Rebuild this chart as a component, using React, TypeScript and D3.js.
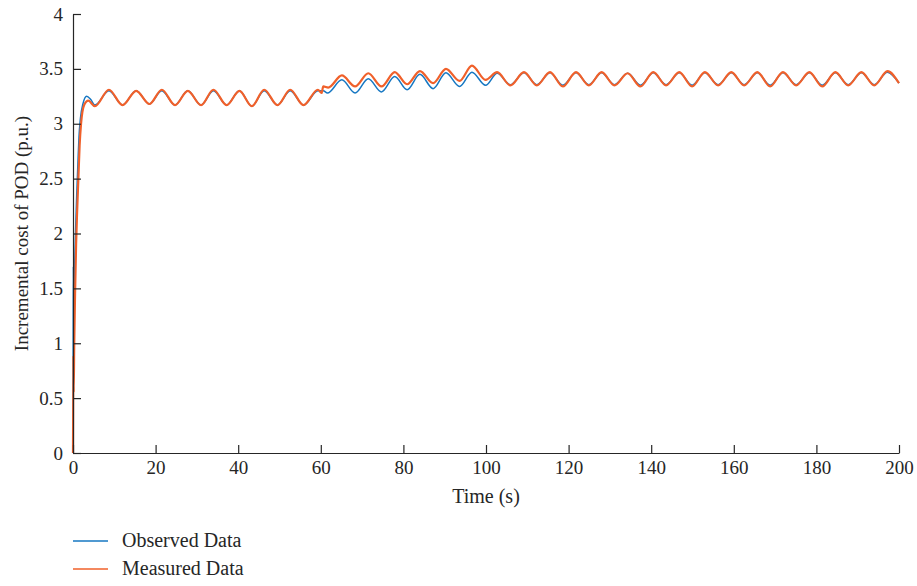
import React, { useEffect, useRef } from "react";
import * as d3 from "d3";

// series (turning points + transient), time in s
const measuredTime = [
  0, 0.1, 0.16, 0.3, 0.5, 0.75, 1.0, 1.3, 1.6, 1.95, 2.7, 3.7, 5.3,
  8.7, 12.0, 15.3, 18.5, 21.5, 24.7, 27.8, 31.0, 34.0, 37.2, 40.3, 43.3, 46.3, 49.5, 52.6, 55.8, 59.3, 60.2,
  60.6, 61.8, 65.1, 68.3, 71.5, 74.7, 77.9, 80.9, 84.0, 87.2, 90.3, 93.6, 96.6, 99.9,
  102.7, 105.9, 109.2, 112.3, 115.5, 118.6, 121.8, 124.9, 128.0, 131.1, 134.3, 137.4, 140.5, 143.6,
  146.8, 149.9, 153.0, 156.2, 159.4, 162.5, 165.7, 168.8, 171.9, 175.1, 178.3, 181.4, 184.6, 187.7,
  190.9, 194.0, 197.2, 200,
];
const measuredValue = [
  0, 0.89, 0.55, 1.0, 1.45, 1.9, 2.2, 2.5, 2.8, 3.0, 3.17, 3.21, 3.16,
  3.31, 3.17, 3.30, 3.18, 3.31, 3.17, 3.30, 3.17, 3.31, 3.17, 3.30, 3.16, 3.31, 3.17, 3.31, 3.17, 3.31, 3.28,
  3.34, 3.33, 3.44, 3.34, 3.46, 3.34, 3.47, 3.36, 3.48, 3.37, 3.50, 3.39, 3.53, 3.40,
  3.47, 3.35, 3.47, 3.35, 3.47, 3.34, 3.47, 3.35, 3.47, 3.35, 3.46, 3.34, 3.47, 3.35,
  3.47, 3.34, 3.47, 3.35, 3.47, 3.35, 3.47, 3.34, 3.47, 3.35, 3.47, 3.34, 3.47, 3.35,
  3.47, 3.35, 3.48, 3.37,
];

const observedTime = [
  0, 0.06, 0.1, 0.14, 0.3, 0.6, 0.9, 1.2, 1.45, 1.8, 2.4, 3.3, 4.3, 5.3,
  8.7, 12.0, 15.3, 18.5, 21.5, 24.7, 27.8, 31.0, 34.0, 37.2, 40.3, 43.3, 46.3, 49.5, 52.6, 55.8, 59.3, 60.6,
  61.6, 65.1, 68.3, 71.5, 74.7, 77.9, 80.9, 84.0, 87.2, 90.3, 93.6, 96.6, 99.9,
  102.7, 105.9, 109.2, 112.3, 115.5, 118.6, 121.8, 124.9, 128.0, 131.1, 134.3, 137.4, 140.5, 143.6,
  146.8, 149.9, 153.0, 156.2, 159.4, 162.5, 165.7, 168.8, 171.9, 175.1, 178.3, 181.4, 184.6, 187.7,
  190.9, 194.0, 197.2, 200,
];
const observedValue = [
  0, 1.2, 1.7, 1.2, 1.55, 2.0, 2.35, 2.65, 2.88, 3.05, 3.18, 3.25, 3.22, 3.17,
  3.30, 3.17, 3.30, 3.18, 3.30, 3.17, 3.30, 3.17, 3.30, 3.17, 3.30, 3.16, 3.30, 3.17, 3.30, 3.17, 3.30, 3.30,
  3.28, 3.40, 3.28, 3.41, 3.29, 3.43, 3.31, 3.45, 3.32, 3.465, 3.34, 3.47, 3.35,
  3.46, 3.355, 3.465, 3.355, 3.465, 3.35, 3.465, 3.355, 3.465, 3.355, 3.46, 3.35, 3.465, 3.355,
  3.465, 3.35, 3.465, 3.355, 3.465, 3.355, 3.465, 3.35, 3.465, 3.355, 3.465, 3.35, 3.465, 3.355,
  3.465, 3.355, 3.47, 3.37,
];

const xTicks = [0, 20, 40, 60, 80, 100, 120, 140, 160, 180, 200];
const yTicks = [0, 0.5, 1, 1.5, 2, 2.5, 3, 3.5, 4];
const seriesNames = ["Observed Data", "Measured Data"];
const seriesColors = ["#1677c2", "#f0602a"];

export default function App() {
  const ref = useRef<SVGSVGElement>(null);

  useEffect(() => {
    const width = 917;
    const height = 586;
    const margin = { top: 14, left: 73, right: 18, bottom: 133 };
    const innerW = width - margin.left - margin.right;
    const innerH = height - margin.top - margin.bottom;
    const font = "'Liberation Serif', 'Times New Roman', serif";
    const ink = "#262626";

    const svg = d3.select(ref.current);
    svg.selectAll("*").remove();

    const g = svg.append("g").attr("transform", `translate(${margin.left},${margin.top})`);

    const x = d3.scaleLinear().domain([0, 200]).range([0, innerW]);
    const y = d3.scaleLinear().domain([0, 4]).range([innerH, 0]);

    const line = d3
      .line<[number, number]>()
      .x((d) => x(d[0]))
      .y((d) => y(d[1]))
      .curve(d3.curveMonotoneX);

    const observed = observedTime.map((t, i) => [t, observedValue[i]] as [number, number]);
    const measured = measuredTime.map((t, i) => [t, measuredValue[i]] as [number, number]);

    g.append("path")
      .attr("d", line(observed))
      .attr("fill", "none")
      .attr("stroke", seriesColors[0])
      .attr("stroke-width", 1.5);

    g.append("path")
      .attr("d", line(measured))
      .attr("fill", "none")
      .attr("stroke", seriesColors[1])
      .attr("stroke-width", 2.2)
      .attr("stroke-linejoin", "round");

    const xAxis = g
      .append("g")
      .attr("transform", `translate(0,${innerH})`)
      .call(
        d3.axisBottom(x).tickValues(xTicks).tickSize(-8).tickSizeOuter(0).tickPadding(8).tickFormat((d) => String(d))
      );
    const yAxis = g
      .append("g")
      .call(
        d3.axisLeft(y).tickValues(yTicks).tickSize(-8).tickSizeOuter(0).tickPadding(10).tickFormat((d) => String(d))
      );

    [xAxis, yAxis].forEach((a) => {
      a.select(".domain").attr("stroke", ink).attr("stroke-width", 1.2);
      a.selectAll(".tick line").attr("stroke", ink).attr("stroke-width", 1.2);
      a.selectAll(".tick text").attr("fill", ink).style("font-family", font).style("font-size", "19px");
    });

    // axis titles
    svg.append("text")
      .attr("x", margin.left + innerW / 2)
      .attr("y", 503)
      .attr("text-anchor", "middle")
      .style("font-family", font)
      .style("font-size", "20px")
      .attr("fill", ink)
      .text("Time (s)");

    svg.append("text")
      .attr("transform", `translate(28,${margin.top + innerH / 2}) rotate(-90)`)
      .attr("text-anchor", "middle")
      .style("font-family", font)
      .style("font-size", "19px")
      .attr("fill", ink)
      .text("Incremental cost of POD (p.u.)");

    // legend
    const legend = svg.append("g");
    seriesNames.forEach((name, i) => {
      const ly = 541 + i * 28;
      legend.append("line")
        .attr("x1", 73).attr("x2", 108)
        .attr("y1", ly).attr("y2", ly)
        .attr("stroke", seriesColors[i])
        .attr("stroke-width", 1.5);
      legend.append("text")
        .attr("x", 122)
        .attr("y", ly + 6)
        .style("font-family", font)
        .style("font-size", "20px")
        .attr("fill", ink)
        .text(name);
    });
  }, []);

  return (
    <svg
      ref={ref}
      width={917}
      height={586}
      style={{ position: "absolute", left: 0, top: 0, background: "#fff" }}
    />
  );
}
